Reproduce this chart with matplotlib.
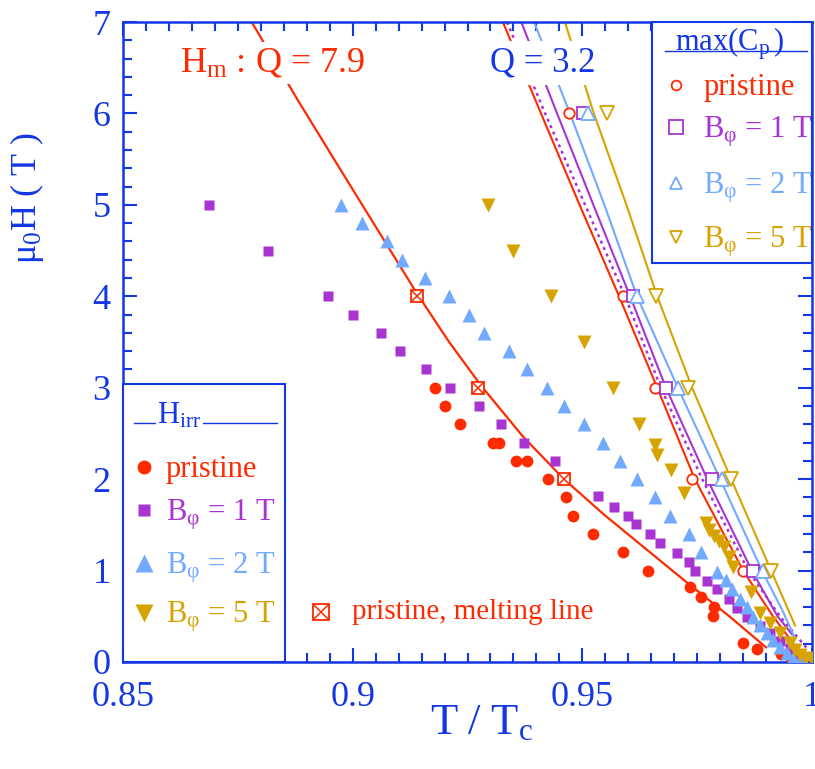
import matplotlib
matplotlib.use('Agg')
import matplotlib.pyplot as plt
from matplotlib.ticker import MultipleLocator, FuncFormatter
from matplotlib.patches import Rectangle

plt.rcParams['font.family'] = ['Liberation Serif', 'DejaVu Serif']
plt.rcParams['mathtext.fontset'] = 'custom'
plt.rcParams['mathtext.rm'] = 'Liberation Serif'
plt.rcParams['mathtext.it'] = 'Liberation Serif:italic'

BLUE = '#1437e6'
RED = '#ff2a00'
PURPLE = '#a834d2'
LBLUE = '#72aaff'
GOLD = '#d6a300'

# H_irr, pristine (filled circles)
irr0_t = [0.9179, 0.9201, 0.9234, 0.9306, 0.9319, 0.9356, 0.9380, 0.9425, 0.9465,
          0.9480, 0.9523, 0.9589, 0.9643, 0.9734, 0.9758, 0.9787, 0.9785, 0.9850,
          0.9880, 0.9933, 0.9955]
irr0_h = [3.0, 2.8, 2.6, 2.4, 2.4, 2.2, 2.2, 2.0, 1.8, 1.6, 1.4, 1.2, 1.0, 0.82,
          0.71, 0.6, 0.5, 0.21, 0.14, 0.09, 0.04]

# H_irr, B_phi = 1 T (filled squares)
irr1_t = [0.8687, 0.8816, 0.8946, 0.9001, 0.9062, 0.9103, 0.9160, 0.9212, 0.9275,
          0.9323, 0.9373, 0.9441, 0.9534, 0.9569, 0.9599, 0.9617, 0.9647, 0.9669,
          0.9706, 0.9732, 0.9745, 0.9771, 0.9793, 0.9819, 0.9837, 0.9858, 0.9887,
          0.9909, 0.9930, 0.9952, 0.9974]
irr1_h = [5.0, 4.5, 4.0, 3.8, 3.6, 3.4, 3.2, 3.0, 2.8, 2.6, 2.4, 2.2, 1.82, 1.7,
          1.6, 1.51, 1.4, 1.3, 1.19, 1.09, 1.0, 0.89, 0.8, 0.69, 0.59, 0.49, 0.39,
          0.32, 0.23, 0.15, 0.08]

# H_irr, B_phi = 2 T (filled triangles)
irr2_t = [0.8975, 0.9020, 0.9075, 0.9107, 0.9158, 0.9210, 0.9253, 0.9286, 0.9340,
          0.9380, 0.9423, 0.9460, 0.9504, 0.9545, 0.9582, 0.9619, 0.9658, 0.9691,
          0.9732, 0.9758, 0.9793, 0.9813, 0.9826, 0.9843, 0.9859, 0.9872, 0.9887,
          0.9902, 0.9915, 0.9930, 0.9946, 0.9959, 0.9974]
irr2_h = [5.0, 4.8, 4.6, 4.4, 4.2, 4.0, 3.8, 3.6, 3.4, 3.2, 3.0, 2.8, 2.6, 2.4,
          2.2, 2.0, 1.8, 1.6, 1.4, 1.2, 0.98, 0.9, 0.8, 0.69, 0.6, 0.49, 0.4, 0.32,
          0.24, 0.16, 0.1, 0.04, 0.02]

# H_irr, B_phi = 5 T (filled down triangles)
irr5_t = [0.9295, 0.9349, 0.9432, 0.9504, 0.9567, 0.9623, 0.9658, 0.9663, 0.9693,
          0.9721, 0.9769, 0.9776, 0.9787, 0.9798, 0.9809, 0.9819, 0.9828, 0.9867,
          0.9887, 0.9909, 0.9930, 0.9952, 0.9963, 0.9974, 0.9987, 1.0]
irr5_h = [5.0, 4.5, 4.0, 3.5, 3.0, 2.6, 2.37, 2.26, 2.1, 1.85, 1.52, 1.44, 1.38,
          1.32, 1.26, 1.15, 1.04, 0.77, 0.54, 0.43, 0.32, 0.21, 0.13, 0.08, 0.04,
          0.02]

# melting line, pristine (crossed squares) and fit Q = 7.9
melt_t = [0.9140, 0.9273, 0.9460]
melt_h = [4.0, 3.0, 2.0]
hm_t = [0.878, 0.888, 0.899, 0.907, 0.914, 0.921, 0.928, 0.937, 0.946, 0.955,
        0.964, 0.973, 0.982, 0.990]
hm_h = [7.0, 6.15, 5.25, 4.6, 4.03, 3.5, 3.02, 2.47, 2.0, 1.6, 1.23, 0.86, 0.5,
        0.16]

# max(Cp) points (open symbols) at 6, 4, 3, 2, 1 T
cp_h = [6.0, 4.0, 3.0, 2.0, 1.0]
cp0_t = [0.9471, 0.9589, 0.9658, 0.9739, 0.9850]
cp1_t = [0.9502, 0.9610, 0.9682, 0.9782, 0.9872]
cp2_t = [0.9512, 0.9619, 0.9708, 0.9804, 0.9893]
cp5_t = [0.9554, 0.9660, 0.9730, 0.9824, 0.9911]

# max(Cp) fits, Q = 3.2
fit0_t = [0.9327, 0.9410, 0.9494, 0.9580, 0.9663, 0.9745, 0.9850, 0.9915, 0.9952]
fit0_h = [7.0, 6.0, 5.0, 4.0, 3.0, 2.0, 1.0, 0.5, 0.25]
fit1_t = [0.9367, 0.9445, 0.9524, 0.9604, 0.9682, 0.9772, 0.9869, 0.9925, 0.9957]
fit1_h = [7.0, 6.0, 5.0, 4.0, 3.0, 2.0, 1.0, 0.5, 0.3]
fit1d_t = [0.9336, 0.9419, 0.9506, 0.9593, 0.9671, 0.9761, 0.9861, 0.9930, 0.9989]
fit1d_h = [7.0, 6.0, 5.0, 4.0, 3.0, 2.0, 1.0, 0.5, 0.15]
fit2_t = [0.9395, 0.9473, 0.9548, 0.9619, 0.9708, 0.9800, 0.9891, 0.9935, 0.9963]
fit2_h = [7.0, 6.0, 5.0, 4.0, 3.0, 2.0, 1.0, 0.57, 0.26]
fit5_t = [0.9462, 0.9525, 0.9596, 0.9663, 0.9739, 0.9824, 0.9911, 0.9963]
fit5_h = [7.0, 6.0, 5.0, 4.0, 3.0, 2.0, 1.0, 0.4]

fig = plt.figure(figsize=(8.15, 7.69), dpi=100)
ax = fig.add_axes([123 / 815, 1 - 662 / 769, 689 / 815, 640 / 769])

# fit curves
ax.plot(hm_t, hm_h, color=RED, lw=1.6, zorder=2)
ax.plot(fit0_t, fit0_h, color=RED, lw=1.5, zorder=2)
ax.plot(fit1d_t, fit1d_h, color=PURPLE, lw=1.8, ls=(0, (1.2, 1.6)), zorder=2)
ax.plot(fit1_t, fit1_h, color=PURPLE, lw=1.5, zorder=2)
ax.plot(fit2_t, fit2_h, color=LBLUE, lw=1.5, zorder=2)
ax.plot(fit5_t, fit5_h, color=GOLD, lw=1.5, zorder=2)

# H_irr filled symbols
ax.plot(irr0_t, irr0_h, 'o', color=RED, ms=8.5, mec='none', zorder=3)
ax.plot(irr1_t, irr1_h, 's', color=PURPLE, ms=7, mec='none', zorder=3)
ax.plot(irr2_t, irr2_h, '^', color=LBLUE, ms=10, mec='none', zorder=3)
ax.plot(irr5_t, irr5_h, 'v', color=GOLD, ms=10, mec='none', zorder=3)

# melting line symbols
ax.plot(melt_t, melt_h, 's', mfc='white', mec=RED, mew=1.3, ms=9, zorder=4)
ax.plot(melt_t, melt_h, 'x', color=RED, mew=1.1, ms=9, zorder=4)

# max(Cp) open symbols
ax.plot(cp0_t, cp_h, 'o', mfc='white', mec=RED, mew=1.3, ms=7.5, zorder=4)
ax.plot(cp1_t, cp_h, 's', mfc='white', mec=PURPLE, mew=1.3, ms=9, zorder=4)
ax.plot(cp2_t, cp_h, '^', mfc='white', mec=LBLUE, mew=1.3, ms=9.5, zorder=4)
ax.plot(cp5_t, cp_h, 'v', mfc='white', mec=GOLD, mew=1.3, ms=9.5, zorder=4)

# annotations with white backgrounds hiding the lines
ax.text(0.083, 0.923, r'$\mathrm{H_m}$ : Q = 7.9', color=RED, fontsize=26,
        transform=ax.transAxes, va='baseline', zorder=5,
        bbox=dict(facecolor='white', edgecolor='none', pad=3))
ax.text(0.533, 0.923, 'Q = 3.2', color=BLUE, fontsize=25,
        transform=ax.transAxes, va='baseline', zorder=5,
        bbox=dict(facecolor='white', edgecolor='none', pad=4))

# melting line legend entry
ax.plot([0.287], [0.078], 's', mfc='white', mec=RED, mew=1.3, ms=11,
        transform=ax.transAxes, zorder=6)
ax.plot([0.287], [0.078], 'x', color=RED, mew=1.1, ms=11,
        transform=ax.transAxes, zorder=6)
ax.text(0.332, 0.078, 'pristine, melting line', color=RED, fontsize=21,
        transform=ax.transAxes, va='center', zorder=6)

# left legend box: H_irr
ax.add_patch(Rectangle((0, 0), 0.235, 0.434, transform=ax.transAxes,
                       facecolor='white', edgecolor=BLUE, lw=1.5, zorder=10,
                       clip_on=False))
ax.plot([0.016, 0.2235], [0.373, 0.373], color=BLUE, lw=1.0,
        transform=ax.transAxes, zorder=11)
ax.text(0.05, 0.373, r'$\mathrm{H_{irr}}$', color=BLUE, fontsize=22,
        transform=ax.transAxes, va='baseline', zorder=12,
        bbox=dict(facecolor='white', edgecolor='none', pad=1))
left_items = [('o', RED, 10, 'pristine', 0.305),
              ('s', PURPLE, 9, r'$\mathrm{B_{φ}}$ = 1 T', 0.2375),
              ('^', LBLUE, 13, r'$\mathrm{B_{φ}}$ = 2 T', 0.155),
              ('v', GOLD, 13, r'$\mathrm{B_{φ}}$ = 5 T', 0.077)]
for mk, col, ms, lab, yy in left_items:
    ax.plot([0.03], [yy], mk, color=col, ms=ms, mec='none',
            transform=ax.transAxes, zorder=12, clip_on=False)
    ax.text(0.062, yy - 0.016, lab, color=col, fontsize=22,
            transform=ax.transAxes, va='baseline', zorder=12)

# right legend box: max(Cp)
ax.add_patch(Rectangle((0.768, 0.623), 0.232, 0.377, transform=ax.transAxes,
                       facecolor='white', edgecolor=BLUE, lw=1.5, zorder=10,
                       clip_on=False))
ax.plot([0.787, 0.993], [0.955, 0.955], color=BLUE, lw=1.0,
        transform=ax.transAxes, zorder=11)
ax.text(0.881, 0.955, r'$\mathrm{max(C_p\,)}$', color=BLUE, fontsize=22,
        transform=ax.transAxes, va='baseline', ha='center', zorder=12)
right_items = [('o', RED, 7, 'pristine', 0.902),
               ('s', PURPLE, 10, r'$\mathrm{B_{φ}}$ = 1 T', 0.836),
               ('^', LBLUE, 8, r'$\mathrm{B_{φ}}$ = 2 T', 0.748),
               ('v', GOLD, 8, r'$\mathrm{B_{φ}}$ = 5 T', 0.664)]
for mk, col, ms, lab, yy in right_items:
    ax.plot([0.803], [yy], mk, mfc='white', mec=col, mew=1.3, ms=ms,
            transform=ax.transAxes, zorder=12, clip_on=False)
    ax.text(0.842, yy - 0.016, lab, color=col, fontsize=22,
            transform=ax.transAxes, va='baseline', zorder=12)

# axes styling
ax.set_xlim(0.85, 1.0)
ax.set_ylim(0, 7)
ax.xaxis.set_major_locator(MultipleLocator(0.05))
ax.xaxis.set_minor_locator(MultipleLocator(0.005))
ax.yaxis.set_major_locator(MultipleLocator(1))
ax.yaxis.set_minor_locator(MultipleLocator(0.2))
ax.xaxis.set_major_formatter(FuncFormatter(lambda v, p: '%g' % round(v, 3)))
ax.yaxis.set_major_formatter(FuncFormatter(lambda v, p: '%g' % v))
ax.tick_params(which='both', direction='in', top=True, right=True,
               color=BLUE, labelcolor=BLUE, width=1.5, labelsize=26)
ax.tick_params(which='major', length=10)
ax.tick_params(axis='x', which='major', pad=14)
ax.tick_params(axis='y', which='major', pad=9)
ax.tick_params(which='minor', length=6.5)
for s in ax.spines.values():
    s.set_color(BLUE)
    s.set_linewidth(1.8)

ax.set_xlabel(r'$\mathrm{T\ /\ T_c}$', color=BLUE, fontsize=32)
ax.xaxis.set_label_coords(0.52, -0.064)
ax.set_ylabel(r'$\mathrm{μ_0H\ (\ T\ )}$', color=BLUE, fontsize=26)
ax.yaxis.set_label_coords(-0.112, 0.725)

fig.savefig('out.png', dpi=100)
